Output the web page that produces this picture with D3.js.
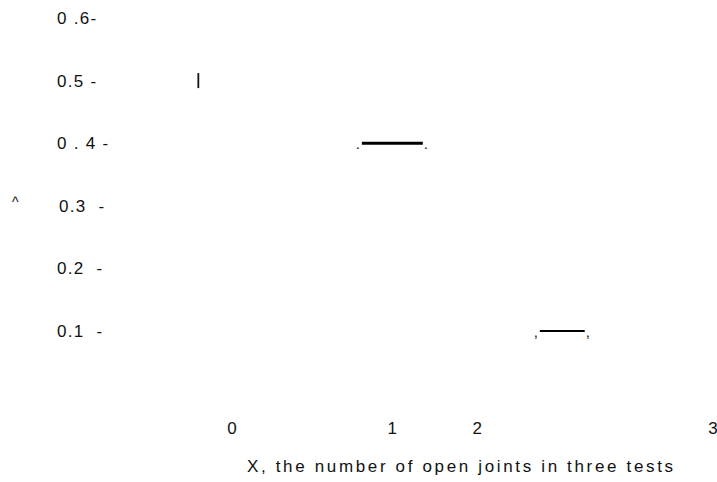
<!DOCTYPE html>
<html>
<head>
<meta charset="utf-8">
<script src="https://cdn.jsdelivr.net/npm/d3@7"></script>
<style>
  html, body { margin: 0; padding: 0; background: #fff; }
  svg text { font-family: "Liberation Sans Narrow", "Liberation Sans", Arial, sans-serif; fill: #111; white-space: pre; }
</style>
</head>
<body>
<svg id="chart" width="717" height="482"></svg>
<script>
// Probability levels on the vertical axis and their printed labels
const yTickValues = [0.6, 0.5, 0.4, 0.3, 0.2, 0.1];
const yTickLabels = ["0 .6-", "0.5 -", "0 . 4 -", "0.3  -", "0.2  -", "0.1  -"];

// Outcomes on the horizontal axis
const xTickValues = [0, 1, 1.53, 3];
const xTickLabels = ["0", "1", "2", "3"];
const xTitle = "X, the number of open joints in three tests";

// Probability marks: one short stem and two horizontal segments
const stemX = [-0.21];
const stemY = [0.5];
const segStart = [0.81, 1.92];
const segEnd = [1.19, 2.2];
const segY = [0.4, 0.1];

const svg = d3.select("#chart");
const x = d3.scaleLinear().domain([0, 3]).range([232, 713]);
const y = d3.scaleLinear().domain([0.1, 0.6]).range([331, 18]);

// y tick labels
svg.append("g").selectAll("text")
  .data(yTickValues)
  .join("text")
  .attr("x", (d, i) => i === 3 ? 59 : 57)
  .attr("y", d => y(d))
  .attr("dy", "0.35em")
  .style("font-size", "17px")
  .style("letter-spacing", "1.3px")
  .text((d, i) => yTickLabels[i]);

// small caret beside the axis
svg.append("text")
  .attr("x", 12).attr("y", y(0.3)).attr("dy", "0.1em")
  .style("font-size", "14px")
  .text("^");

// x tick labels
svg.append("g").selectAll("text")
  .data(xTickValues)
  .join("text")
  .attr("x", d => x(d))
  .attr("y", 428)
  .attr("dy", "0.35em")
  .attr("text-anchor", "middle")
  .style("font-size", "17px")
  .text((d, i) => xTickLabels[i]);

// x axis title
svg.append("text")
  .attr("x", 247).attr("y", 466).attr("dy", "0.35em")
  .attr("textLength", 426).attr("lengthAdjust", "spacing")
  .style("font-size", "17px")
  .text(xTitle);

// stem mark
svg.append("g").selectAll("line")
  .data(stemX)
  .join("line")
  .attr("x1", d => x(d)).attr("x2", d => x(d))
  .attr("y1", (d, i) => y(stemY[i] + 0.012))
  .attr("y2", (d, i) => y(stemY[i] - 0.012))
  .attr("stroke", "#111").attr("stroke-width", 1.8);

// horizontal segments
const segs = svg.append("g").selectAll("g")
  .data(segY)
  .join("g");

segs.append("line")
  .attr("x1", (d, i) => x(segStart[i]))
  .attr("x2", (d, i) => x(segEnd[i]))
  .attr("y1", d => y(d)).attr("y2", d => y(d))
  .attr("stroke", "#000").attr("stroke-width", (d, i) => i === 0 ? 3 : 2);

// end punctuation on each segment
segs.each(function (d, i) {
  const g = d3.select(this);
  const ch = i === 0 ? "." : ",";
  g.append("text")
    .attr("x", x(segStart[i]) - 2).attr("y", y(d) + 6)
    .attr("text-anchor", "end")
    .style("font-size", "15px").text(ch);
  g.append("text")
    .attr("x", x(segEnd[i]) + 1).attr("y", y(d) + 6)
    .style("font-size", "15px").text(ch);
});
</script>
</body>
</html>
